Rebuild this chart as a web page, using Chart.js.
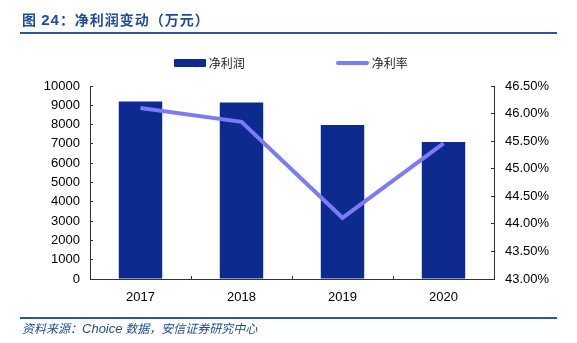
<!DOCTYPE html>
<html lang="zh">
<head>
    <meta charset="UTF-8">
    <title>净利润变动</title>
    <script src="https://cdn.jsdelivr.net/npm/chart.js@4"></script>
    <style>
        body { margin: 0; background: #fff; }
        .wrap { position: relative; width: 577px; height: 343px; overflow: hidden; }
        #chart { position: absolute; left: 0; top: 0; }
        .title {
            position: absolute; left: 22px; top: 9px;
            font: bold 14px "Noto Sans CJK SC", sans-serif; color: #1f4b99;
            letter-spacing: 1px;
        }
        .title .num { font-family: "Liberation Sans", Arial, sans-serif; font-size: 15px; }
        .rule { position: absolute; left: 20px; width: 537px; height: 2px; background: #2a55a3; }
        .source {
            position: absolute; left: 22px; top: 319px;
            font: italic 12px "Noto Sans CJK SC", sans-serif; color: #1f4b99;
        }
        .source .en { font-family: "Liberation Sans", Arial, sans-serif; font-size: 13px; }
        .legend { position: absolute; top: 52px; font: 12px "Noto Sans CJK SC", sans-serif; color: #222; }
        .legend span { display: inline-block; vertical-align: middle; }
    </style>
</head>
<body>
<div class="wrap">
    <canvas id="chart" width="577" height="343"></canvas>
    <div class="title">图 <span class="num">24</span>：净利润变动（万元）</div>
    <div class="rule" style="top:32px"></div>
    <div class="legend" style="left:174px">
        <span style="width:32px;height:8px;background:#0d2a8f;border-radius:1px"></span>
        <span>净利润</span>
    </div>
    <div class="legend" style="left:336px">
        <span style="width:33px;height:4px;background:#7b7bf7;border-radius:2px"></span>
        <span>净利率</span>
    </div>
    <div class="rule" style="top:317px"></div>
    <div class="source">资料来源：<span class="en">Choice</span> 数据，安信证券研究中心</div>
</div>

<script>
    // categories and values
    const years = ['2017', '2018', '2019', '2020'];
    const netProfit = [9200, 9150, 7980, 7100];      // 万元
    const netMargin = [46.10, 45.85, 44.11, 45.46];  // %

    const axisColor = '#333';
    const tickFont = { family: 'Liberation Sans, Arial, sans-serif', size: 13 };

    new Chart(document.getElementById('chart'), {
        type: 'bar',
        data: {
            labels: years,
            datasets: [
                {
                    type: 'line',
                    label: '净利率',
                    data: netMargin,
                    yAxisID: 'y1',
                    borderColor: '#7b7bf7',
                    backgroundColor: '#7b7bf7',
                    borderWidth: 4,
                    pointRadius: 0,
                    tension: 0,
                    order: 0
                },
                {
                    label: '净利润',
                    data: netProfit,
                    yAxisID: 'y',
                    backgroundColor: '#0d2a8f',
                    barPercentage: 0.43,
                    categoryPercentage: 1,
                    order: 1
                }
            ]
        },
        options: {
            responsive: false,
            animation: false,
            layout: { padding: { left: 30, right: 13, top: 86, bottom: 39 } },
            plugins: { legend: { display: false }, tooltip: { enabled: false } },
            scales: {
                x: {
                    grid: { drawOnChartArea: false, drawTicks: true, tickLength: -3, color: axisColor },
                    border: { display: true, color: axisColor },
                    ticks: { color: '#000', font: tickFont, padding: 14, maxRotation: 0 },
                    afterFit: s => { s.height = 25; }
                },
                y: {
                    position: 'left',
                    min: 0, max: 10000,
                    grid: { drawOnChartArea: false, drawTicks: true, tickLength: -3, color: axisColor },
                    border: { display: true, color: axisColor },
                    ticks: { stepSize: 1000, color: '#000', font: tickFont, padding: 13, callback: v => String(v) },
                    afterFit: s => { s.width = 60; }
                },
                y1: {
                    position: 'right',
                    min: 43, max: 46.5,
                    grid: { drawOnChartArea: false, drawTicks: true, tickLength: -3, color: axisColor },
                    border: { display: true, color: axisColor },
                    ticks: {
                        stepSize: 0.5, color: '#000', font: tickFont, padding: 14,
                        callback: v => v.toFixed(2) + '%'
                    },
                    afterFit: s => { s.width = 70; }
                }
            }
        }
    });
</script>
</body>
</html>
